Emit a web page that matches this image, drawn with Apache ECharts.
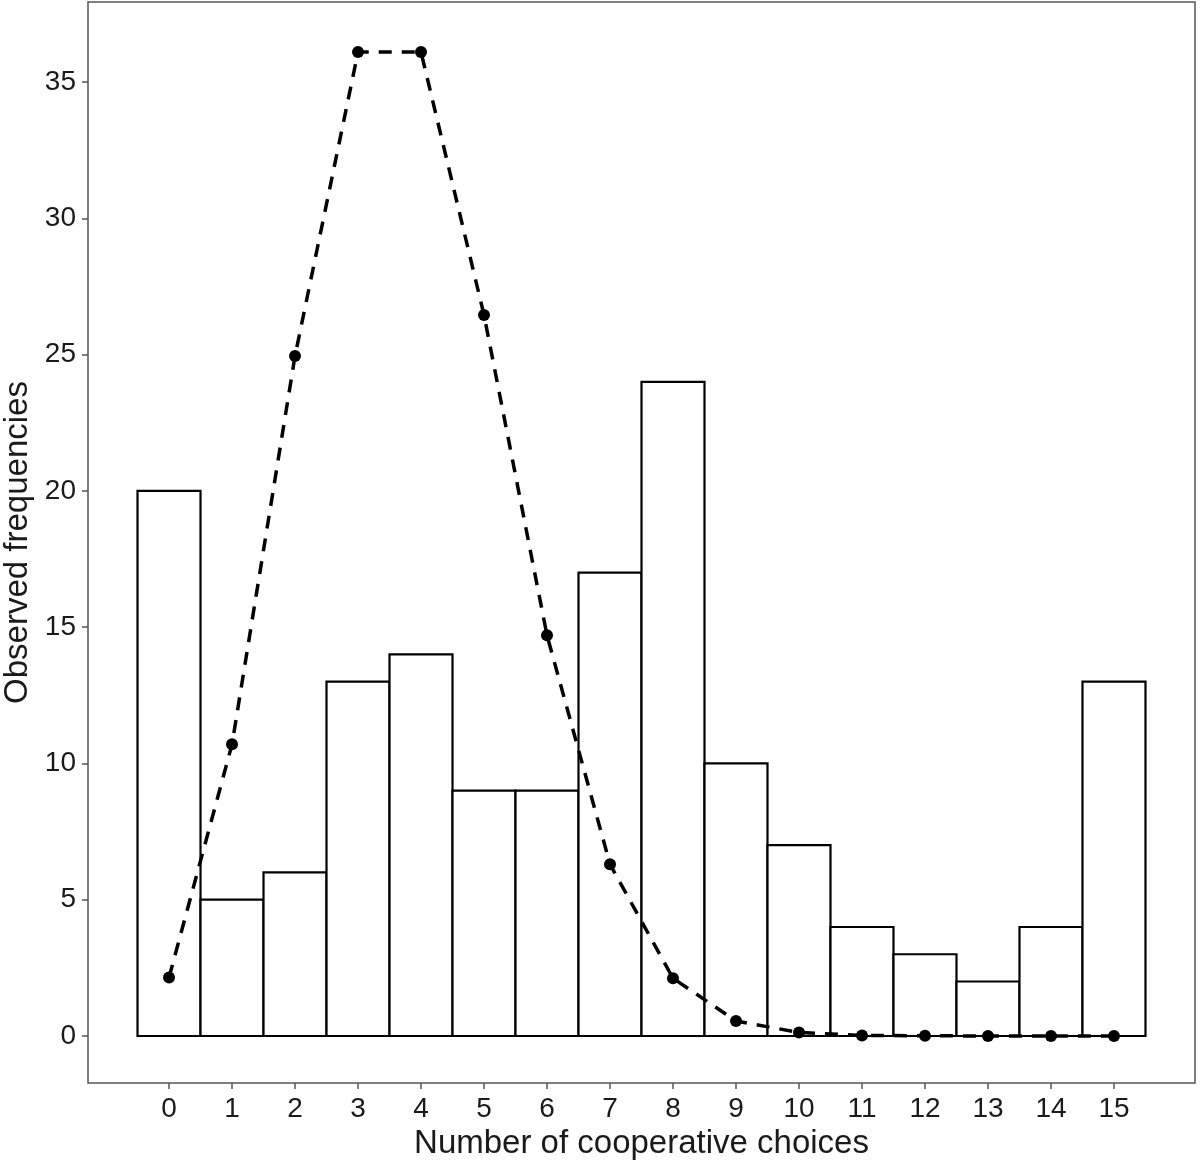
<!DOCTYPE html>
<html>
<head>
<meta charset="utf-8">
<script src="https://cdn.jsdelivr.net/npm/echarts@6/dist/echarts.min.js"></script>
<style>html,body{margin:0;padding:0;background:#fff;}#c{width:1200px;height:1163px;}</style>
</head>
<body>
<div id="c"></div>
<script>
const choices = [0,1,2,3,4,5,6,7,8,9,10,11,12,13,14,15];
const observed = [20,5,6,13,14,9,9,17,24,10,7,4,3,2,4,13];
const expected = [2.15,10.7,24.95,36.1,36.1,26.45,14.7,6.3,2.12,0.55,0.13,0.02,0.01,0,0,0];
const yTicks = [0,5,10,15,20,25,30,35];

const chart = echarts.init(document.getElementById('c'));
const font = 'Liberation Sans, Arial, Helvetica, sans-serif';
chart.setOption({
  animation: false,
  backgroundColor: '#fff',
  grid: {left: 88, top: 2, right: 5, bottom: 80, containLabel: false, outerBoundsMode: 'none',
         show: true, borderColor: '#555', borderWidth: 1.5, backgroundColor: 'transparent'},
  xAxis: {
    type: 'value', min: -1.286, max: 16.286,
    name: 'Number of cooperative choices', nameLocation: 'middle', nameGap: 41,
    nameTextStyle: {fontSize: 33, color: '#1a1a1a', fontFamily: font},
    axisLine: {show: false, onZero: false},
    splitLine: {show: false},
    axisTick: {show: true, length: 6, lineStyle: {color: '#555', width: 1.5}, customValues: choices},
    axisLabel: {fontSize: 28, color: '#1a1a1a', fontFamily: font, margin: 12, customValues: choices}
  },
  yAxis: {
    type: 'value', min: -1.724, max: 37.935,
    name: 'Observed frequencies', nameLocation: 'middle', nameGap: 49, nameRotate: 90,
    nameTextStyle: {fontSize: 33, color: '#1a1a1a', fontFamily: font},
    axisLine: {show: false, onZero: false},
    splitLine: {show: false},
    axisTick: {show: true, length: 6, lineStyle: {color: '#555', width: 1.5}, customValues: yTicks},
    axisLabel: {fontSize: 28, color: '#1a1a1a', fontFamily: font, margin: 12, customValues: yTicks}
  },
  series: [
    {
      type: 'custom',
      data: choices.map((c, i) => [c, observed[i]]),
      renderItem: function (params, api) {
        const x = api.value(0), y = api.value(1);
        const p1 = api.coord([x - 0.5, y]);
        const p2 = api.coord([x + 0.5, 0]);
        return {
          type: 'rect',
          shape: {x: p1[0], y: p1[1], width: p2[0] - p1[0], height: p2[1] - p1[1]},
          style: {fill: '#fff', stroke: '#000', lineWidth: 2.2}
        };
      },
      z: 1
    },
    {
      type: 'line',
      data: choices.map((c, i) => [c, expected[i]]),
      smooth: false,
      symbol: 'circle',
      symbolSize: 12,
      itemStyle: {color: '#000'},
      lineStyle: {color: '#000', width: 3.5, type: [13, 10]},
      z: 3
    }
  ]
});
</script>
</body>
</html>
